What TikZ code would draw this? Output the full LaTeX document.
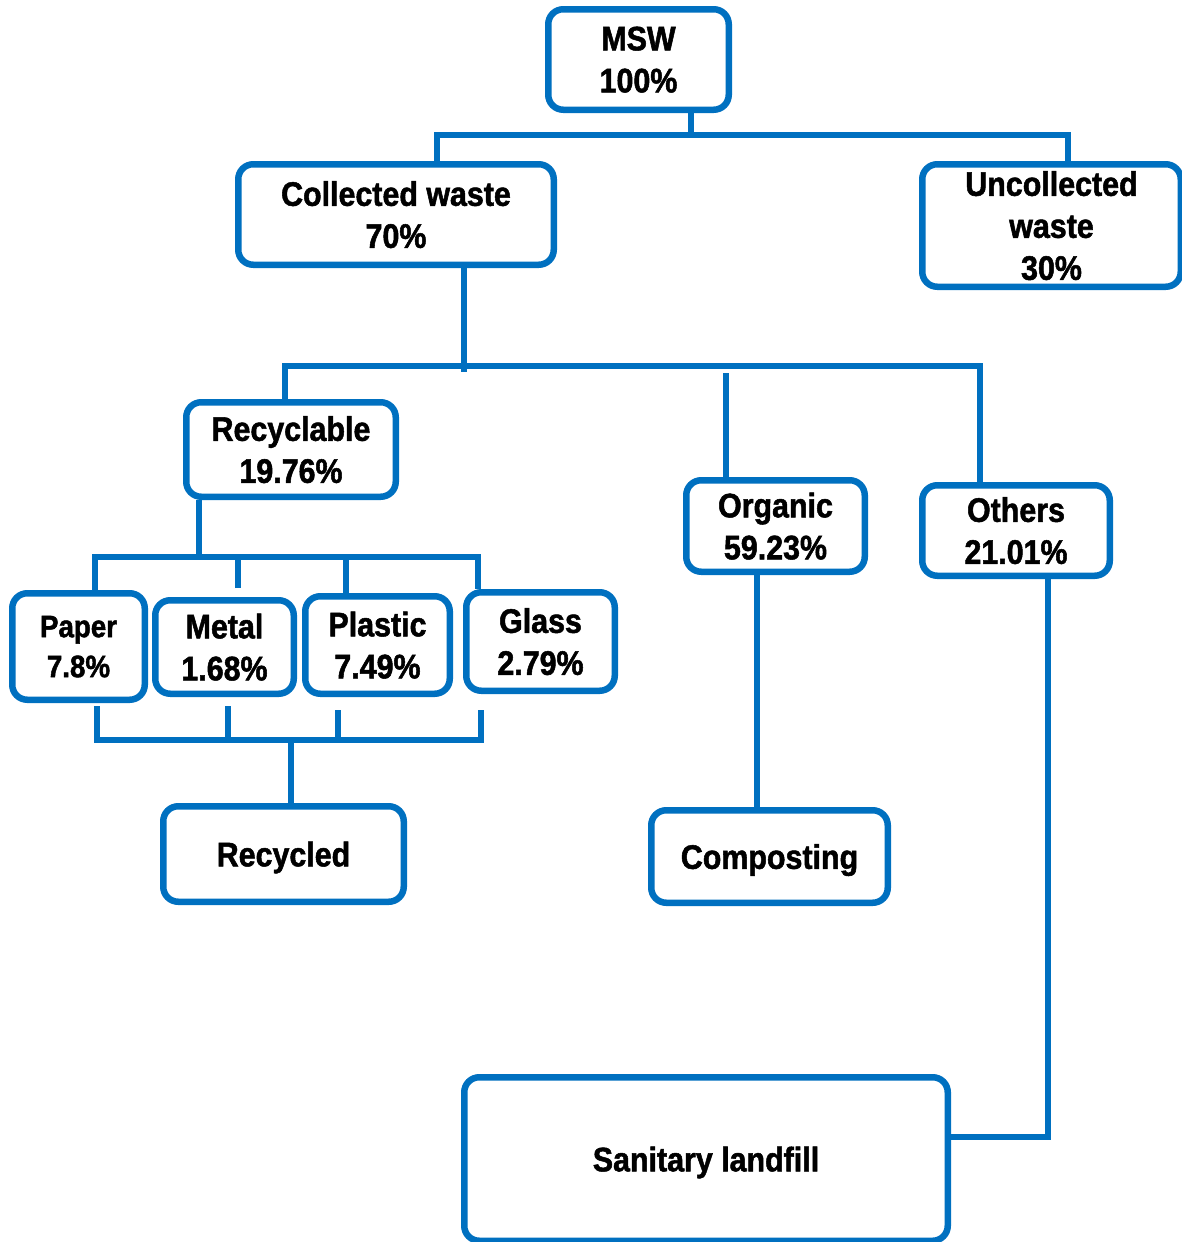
\documentclass[tikz,border=0pt]{standalone}
\usepackage{fontspec}
\newfontfamily\boxfont[FakeStretch=0.894,FakeBold=1.5]{Liberation Sans}
\definecolor{mswblue}{RGB}{0,112,192}
\begin{document}
\begin{tikzpicture}[x=1pt,y=-1pt,
  box/.style={draw=mswblue, line width=6.5pt, rounded corners=15pt, fill=white,
    inner sep=0pt, align=center, text=black, text depth=0pt,
    font=\boxfont\bfseries\fontsize{34}{42}\selectfont},
  link/.style={draw=mswblue, line width=6.5pt, line join=miter}]
\clip (0,0) rectangle (1182,1242);
\fill[white] (0,0) rectangle (1182,1242);

% nodes
\node[box, minimum width=180.5pt, minimum height=100.5pt] (msw) at (638.5,59.5) {MSW\\100\%};
\node[box, minimum width=315.5pt, minimum height=100.5pt] (coll) at (396,214.5) {Collected waste\\70\%};
\node[box, minimum width=258.5pt, minimum height=122.5pt] (uncoll) at (1051.5,225.5) {Uncollected\\waste\\30\%};
\node[box, minimum width=209.5pt, minimum height=94.5pt] (recyc) at (291,449.5) {Recyclable\\19.76\%};
\node[box, minimum width=178.5pt, minimum height=91.5pt] (org) at (775.5,526) {Organic\\59.23\%};
\node[box, minimum width=187.5pt, minimum height=90.5pt] (oth) at (1016,530.5) {Others\\21.01\%};
\node[box, minimum width=132.5pt, minimum height=106.5pt,
  font=\boxfont\bfseries\fontsize{31}{40}\selectfont] (paper) at (78.5,646.5) {Paper\\7.8\%};
\node[box, minimum width=138.5pt, minimum height=93.5pt] (metal) at (224.5,647) {Metal\\1.68\%};
\node[box, minimum width=144.5pt, minimum height=97.5pt] (plast) at (377.5,645) {Plastic\\7.49\%};
\node[box, minimum width=148.5pt, minimum height=98.5pt] (glass) at (540.5,641.5) {Glass\\2.79\%};
\node[box, minimum width=240.5pt, minimum height=95.5pt] (recd) at (283.5,854) {Recycled};
\node[box, minimum width=236.5pt, minimum height=92.5pt] (comp) at (769.5,856.5) {Composting};
\node[box, minimum width=483.5pt, minimum height=163.5pt] (land) at (706,1159) {Sanitary landfill};

% junction points
\coordinate (bus1) at (691,135);
\coordinate (bus2) at (464,366);
\coordinate (bus3) at (199,557);
\coordinate (bus4) at (291,740);

% MSW level
\draw[link] (msw.south -| bus1) -- (bus1);
\draw[link] ([xshift=41pt]coll.north) |- (bus1) -| ([xshift=16.5pt]uncoll.north);

% collected waste level
\draw[link] ([xshift=68pt]coll.south) -- ([yshift=-6pt]bus2);
\draw[link] ([xshift=-6pt]recyc.north) |- (bus2) -| ([xshift=-36pt]oth.north);
\draw[link] ([xshift=-49.5pt]org.north) -- +(0,-104);

% recyclable level
\draw[link] ([xshift=-92pt]recyc.south) -- (bus3);
\draw[link] ([xshift=16.5pt]paper.north) |- (bus3) -| ([xshift=-62.5pt]glass.north);
\draw[link] ([xshift=13.5pt,yshift=9pt]metal.north) -- +(0,-34);
\draw[link] ([xshift=-31.5pt]plast.north) -- +(0,-39);

% recycled level
\draw[link] ([xshift=18.5pt,yshift=-3pt]paper.south) |- (bus4) -| ([xshift=-59.5pt,yshift=-16pt]glass.south);
\draw[link] ([xshift=3.5pt,yshift=-9pt]metal.south) -- +(0,37);
\draw[link] ([xshift=-39.5pt,yshift=-13pt]plast.south) -- +(0,33);
\draw[link] (bus4) -- ([xshift=7.5pt]recd.north);

% organic and others
\draw[link] ([xshift=-18.5pt]org.south) -- ([xshift=-12.5pt]comp.north);
\draw[link] ([xshift=32pt]oth.south) |- ([yshift=22pt]land.east);
\end{tikzpicture}
\end{document}
